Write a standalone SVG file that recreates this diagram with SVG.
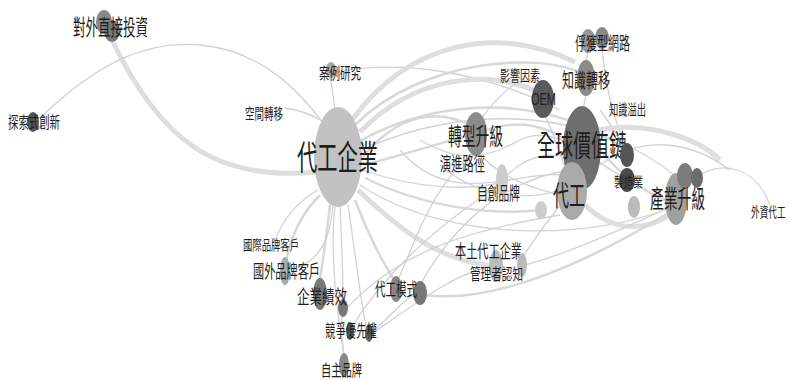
<svg xmlns="http://www.w3.org/2000/svg" width="790" height="380" viewBox="0 0 790 380">
<style>
.e1{fill:none;stroke:#d2d2d2;stroke-width:1.3}
.e2{fill:none;stroke:#d8d8d8;stroke-width:2.5}
.e3{fill:none;stroke:#dedede;stroke-width:5}
text{font-family:"Noto Sans CJK TC","Noto Sans CJK SC",sans-serif;fill:#1e1e1e;dominant-baseline:central}
.lat{font-family:"Liberation Sans",Arial,sans-serif}
</style>
<rect width="790" height="380" fill="#fff"/>
<g id="edges">
<path class="e3" d="M112,40 C160,140 215,182 318,172"/>
<path class="e1" d="M40,118 C100,60 150,40 200,45 C260,50 300,90 328,130"/>
<path class="e1" d="M285,108 C300,110 310,114 320,120"/>
<path class="e1" d="M330,75 C332,90 334,100 335,110"/>
<path class="e1" d="M335,72 C400,60 480,70 560,110"/>
<path class="e3" d="M352,120 C410,40 500,25 575,62"/>
<path class="e2" d="M355,125 C420,60 540,50 586,75"/>
<path class="e3" d="M360,132 C420,70 500,70 543,95"/>
<path class="e2" d="M358,142 C450,90 560,100 625,150"/>
<path class="e1" d="M362,150 C470,100 600,110 680,180"/>
<path class="e2" d="M360,160 C400,110 440,110 470,125"/>
<path class="e2" d="M364,165 C420,150 450,140 470,135"/>
<path class="e1" d="M362,170 C420,190 470,190 500,183"/>
<path class="e2" d="M365,178 C430,210 500,215 541,210"/>
<path class="e3" d="M358,190 C400,230 440,262 496,266"/>
<path class="e1" d="M360,185 C450,245 600,240 676,205"/>
<path class="e1" d="M440,165 C480,200 530,200 560,190"/>
<path class="e1" d="M476,150 C500,180 540,190 560,195"/>
<path class="e2" d="M487,130 C520,118 550,128 565,140"/>
<path class="e1" d="M480,120 C510,80 530,70 545,90"/>
<path class="e1" d="M545,115 C560,150 565,170 570,180"/>
<path class="e1" d="M586,95 L583,110"/>
<path class="e1" d="M588,52 L586,62"/>
<path class="e1" d="M602,48 C605,80 610,110 627,150"/>
<path class="e1" d="M600,110 C615,130 622,145 627,150"/>
<path class="e3" d="M598,130 C650,120 700,140 720,160"/>
<path class="e2" d="M600,150 C620,175 650,195 665,200"/>
<path class="e3" d="M585,205 C620,240 660,225 676,210"/>
<path class="e1" d="M600,165 C640,135 690,140 730,170"/>
<path class="e1" d="M695,178 C720,160 755,165 770,205"/>
<path class="e1" d="M502,180 C530,150 560,150 575,165"/>
<path class="e1" d="M400,150 C450,210 520,170 560,175"/>
<path class="e1" d="M420,140 C470,170 500,150 520,140 C560,120 600,170 630,180"/>
<path class="e2" d="M320,195 C300,215 290,240 286,262"/>
<path class="e1" d="M275,240 C285,215 300,200 318,190"/>
<path class="e2" d="M330,205 C326,240 322,265 320,280"/>
<path class="e1" d="M340,207 C342,250 343,280 343,300"/>
<path class="e1" d="M348,205 C355,250 360,300 367,330"/>
<path class="e2" d="M355,200 C370,240 385,265 395,282"/>
<path class="e1" d="M344,355 C340,330 342,315 343,308"/>
<path class="e1" d="M344,355 C335,300 330,250 335,207"/>
<path class="e1" d="M345,310 C400,250 470,230 560,215"/>
<path class="e1" d="M367,335 C390,320 400,300 419,293"/>
<path class="e1" d="M420,285 C450,230 500,180 570,170"/>
<path class="e2" d="M425,295 C500,305 600,255 670,212"/>
<path class="e1" d="M370,335 C420,300 460,270 496,266"/>
<path class="e1" d="M525,265 C580,250 640,220 676,205"/>
<path class="e1" d="M522,258 C540,230 560,205 572,190"/>
<path class="e1" d="M350,330 C380,280 430,230 500,185"/>
<path class="e1" d="M396,285 C420,230 430,190 476,150"/>
<path class="e1" d="M290,270 C320,262 330,240 333,205"/>
</g>
<g id="n-fdi"><ellipse cx="104" cy="22" rx="8" ry="12" fill="#8a8a8a"/><ellipse cx="112" cy="31" rx="8" ry="11" fill="#777"/><text x="73" y="25" font-size="22" textLength="75" lengthAdjust="spacingAndGlyphs">對外直接投資</text></g>
<g id="n-explore"><ellipse cx="33" cy="122" rx="6" ry="10" fill="#555"/><text x="8" y="121" font-size="16" textLength="52" lengthAdjust="spacingAndGlyphs">探索式創新</text></g>
<g id="n-case"><ellipse cx="331" cy="70" rx="5" ry="8" fill="#aaa"/><text x="319" y="72" font-size="16" textLength="42" lengthAdjust="spacingAndGlyphs">案例研究</text></g>
<g id="n-space"><text x="245" y="112" font-size="15" textLength="38" lengthAdjust="spacingAndGlyphs">空間轉移</text></g>
<g id="n-oemfirm"><ellipse cx="338" cy="157" rx="24" ry="50" fill="#c2c2c2"/><text x="297" y="155" font-size="34" textLength="81" lengthAdjust="spacingAndGlyphs">代工企業</text></g>
<g id="n-captive"><ellipse cx="588" cy="41" rx="7" ry="12" fill="#999"/><ellipse cx="602" cy="38" rx="7" ry="11" fill="#888"/><text x="575" y="42" font-size="18" textLength="55" lengthAdjust="spacingAndGlyphs">俘獲型網路</text></g>
<g id="n-factor"><text x="500" y="74" font-size="15" textLength="40" lengthAdjust="spacingAndGlyphs">影響因素</text></g>
<g id="n-ktransfer"><ellipse cx="586" cy="78" rx="9" ry="18" fill="#8c8c8c"/><text x="562" y="79" font-size="20" textLength="48" lengthAdjust="spacingAndGlyphs">知識轉移</text></g>
<g id="n-oem"><ellipse cx="543" cy="99" rx="11" ry="19" fill="#5a5a5a"/><text class="lat" x="531" y="99" font-size="16" textLength="25" lengthAdjust="spacingAndGlyphs">OEM</text></g>
<g id="n-spill"><text x="609" y="108" font-size="15" textLength="37" lengthAdjust="spacingAndGlyphs">知識溢出</text></g>
<g id="n-transform"><ellipse cx="476" cy="134" rx="11" ry="22" fill="#8c8c8c"/><text x="448" y="134" font-size="24" textLength="55" lengthAdjust="spacingAndGlyphs">轉型升級</text></g>
<g id="n-gvc"><ellipse cx="582" cy="148" rx="19" ry="42" fill="#6e6e6e"/><text x="537" y="143" font-size="30" textLength="90" lengthAdjust="spacingAndGlyphs">全球價值鏈</text></g>
<g id="n-path"><text x="440" y="162" font-size="19" textLength="45" lengthAdjust="spacingAndGlyphs">演進路徑</text></g>
<g id="n-ownbrand"><ellipse cx="502" cy="180" rx="6" ry="16" fill="#ccc"/><text x="477" y="192" font-size="18" textLength="43" lengthAdjust="spacingAndGlyphs">自創品牌</text></g>
<g id="n-oem2"><ellipse cx="572" cy="191" rx="15" ry="29" fill="#aaa"/><ellipse cx="541" cy="210" rx="6" ry="9" fill="#ccc"/><text x="553" y="194" font-size="28" textLength="32" lengthAdjust="spacingAndGlyphs">代工</text></g>
<g id="n-manuf"><ellipse cx="627" cy="155" rx="7" ry="12" fill="#555"/><ellipse cx="627" cy="180" rx="8" ry="12" fill="#4a4a4a"/><ellipse cx="634" cy="207" rx="6" ry="11" fill="#bbb"/><text x="614" y="181" font-size="14" textLength="29" lengthAdjust="spacingAndGlyphs">製造業</text></g>
<g id="n-industry"><ellipse cx="676" cy="199" rx="11" ry="26" fill="#a0a0a0"/><ellipse cx="685" cy="176" rx="8" ry="13" fill="#7c7c7c"/><ellipse cx="697" cy="178" rx="6" ry="10" fill="#6c6c6c"/><text x="650" y="197" font-size="25" textLength="55" lengthAdjust="spacingAndGlyphs">產業升級</text></g>
<g id="n-foreign"><text transform="translate(751,210) scale(0.62,1)" x="0" y="0" font-size="14">外資代工</text></g>
<g id="n-intlbrand"><text x="243" y="244" font-size="14" textLength="56" lengthAdjust="spacingAndGlyphs">國際品牌客戶</text></g>
<g id="n-fbrand"><ellipse cx="285" cy="271" rx="5" ry="14" fill="#aaa"/><text x="253" y="270" font-size="18" textLength="67" lengthAdjust="spacingAndGlyphs">國外品牌客戶</text></g>
<g id="n-perf"><ellipse cx="320" cy="294" rx="7" ry="16" fill="#777"/><ellipse cx="343" cy="308" rx="5" ry="9" fill="#777"/><text x="297" y="295" font-size="19" textLength="50" lengthAdjust="spacingAndGlyphs">企業績效</text></g>
<g id="n-compete"><ellipse cx="350" cy="331" rx="4" ry="9" fill="#666"/><ellipse cx="369" cy="333" rx="4" ry="9" fill="#666"/><text x="325" y="329" font-size="17" textLength="52" lengthAdjust="spacingAndGlyphs">競爭優先權</text></g>
<g id="n-selfbrand"><ellipse cx="344" cy="365" rx="5" ry="12" fill="#888"/><text x="321" y="369" font-size="16" textLength="41" lengthAdjust="spacingAndGlyphs">自主品牌</text></g>
<g id="n-mode"><ellipse cx="396" cy="289" rx="6" ry="13" fill="#888"/><ellipse cx="420" cy="293" rx="7" ry="12" fill="#777"/><text x="375" y="288" font-size="18" textLength="42" lengthAdjust="spacingAndGlyphs">代工模式</text></g>
<g id="n-local"><ellipse cx="496" cy="266" rx="7" ry="16" fill="#bbb"/><text x="455" y="250" font-size="18" textLength="67" lengthAdjust="spacingAndGlyphs">本土代工企業</text></g>
<g id="n-manager"><ellipse cx="522" cy="265" rx="5" ry="12" fill="#bbb"/><text x="470" y="273" font-size="16" textLength="53" lengthAdjust="spacingAndGlyphs">管理者認知</text></g>
</svg>
